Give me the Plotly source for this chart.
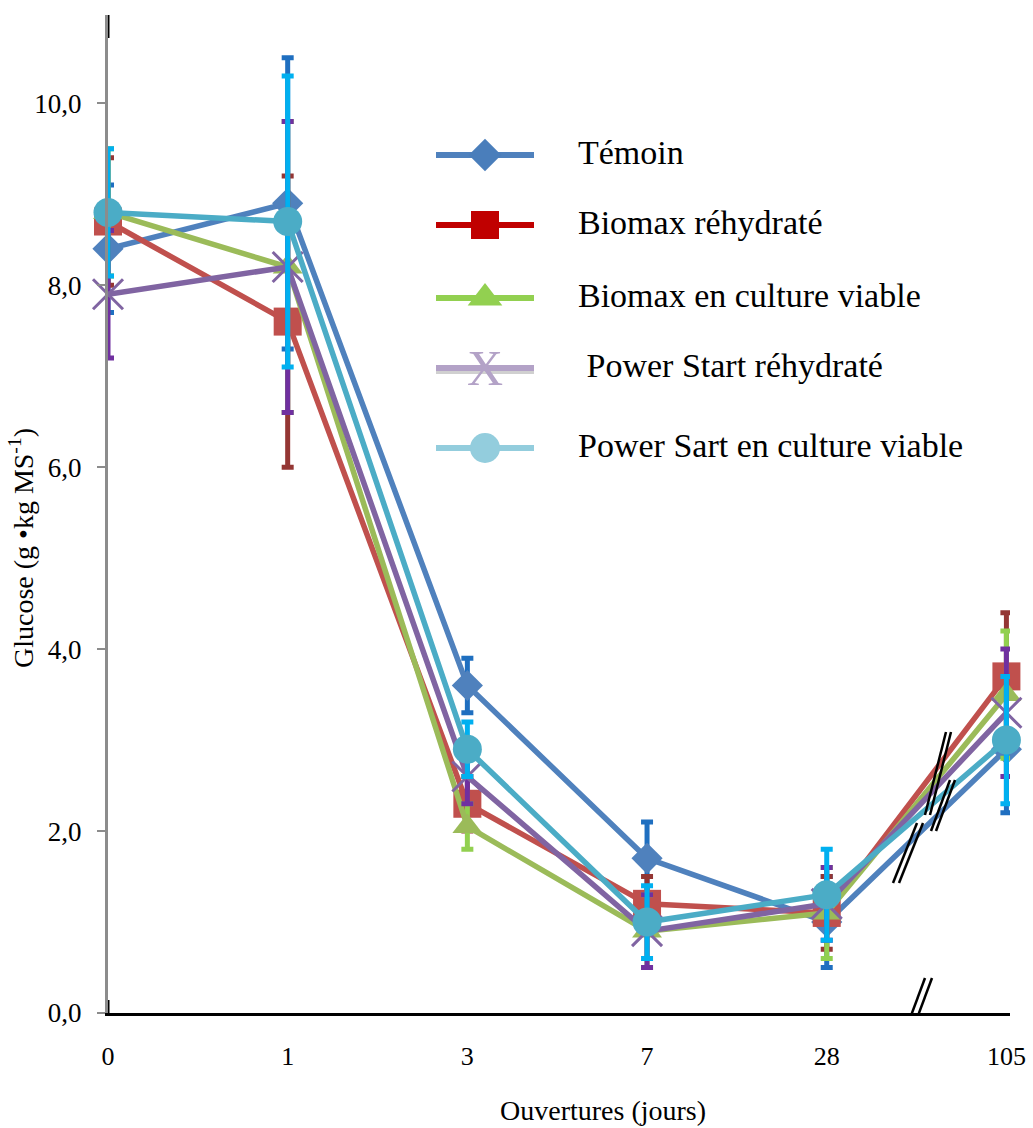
import plotly.graph_objects as go

# Sampling days (categorical positions on the x axis)
days = ["0", "1", "3", "7", "28", "105"]

# Glucose content (g/kg MS) and standard deviations per treatment
temoin = [8.4, 8.9, 3.6, 1.7, 1.0, 2.9]
temoin_sd = [0.7, 1.6, 0.3, 0.4, 0.5, 0.7]

biomax_reh = [8.7, 7.6, 2.3, 1.2, 1.1, 3.7]
biomax_reh_sd = [0.7, 1.6, 0.3, 0.3, 0.4, 0.7]

biomax_cult = [8.8, 8.2, 2.05, 0.9, 1.1, 3.5]
biomax_cult_sd = [0.7, 1.6, 0.25, 0.4, 0.5, 0.7]

power_reh = [7.9, 8.2, 2.6, 0.9, 1.2, 3.3]
power_reh_sd = [0.7, 1.6, 0.3, 0.4, 0.4, 0.7]

power_cult = [8.8, 8.7, 2.9, 1.0, 1.3, 3.0]
power_cult_sd = [0.7, 1.6, 0.3, 0.4, 0.5, 0.7]

names = ["Témoin", "Biomax réhydraté", "Biomax en culture viable",
         " Power Start réhydraté", "Power Sart en culture viable"]

x_title = "Ouvertures (jours)"
y_title = "Glucose (g •kg MS<sup>-1</sup>)"

FONT = "Liberation Serif"
xpos = list(range(len(days)))

# plot area in pixels: left, right, bottom, top
PL, PR, PB, PT = 108, 1010, 1013, 15


def px_to_paper(px, py):
    return (px - PL) / (PR - PL), (PB - py) / (PB - PT)


series = [
    # values, sd, line colour, marker symbol, marker size, error colour
    (temoin, temoin_sd, "#4F81BD", "diamond", 24, "#1F6FC0"),
    (biomax_reh, biomax_reh_sd, "#C0504D", "square", 28, "#943634"),
    (biomax_cult, biomax_cult_sd, "#9BBB59", "triangle-up", 26, "#92D050"),
    (power_reh, power_reh_sd, "#8064A2", "x-thin", 30, "#7030A0"),
    (power_cult, power_cult_sd, "#4BACC6", "circle", 29, "#00B0F0"),
]

fig = go.Figure()
for (vals, sd, col, sym, size, ecol), name in zip(series, names):
    marker = dict(symbol=sym, size=size, color=col)
    if sym == "x-thin":
        marker["line"] = dict(color=col, width=3)
    fig.add_trace(go.Scatter(
        x=xpos, y=vals, name=name, mode="lines+markers",
        line=dict(color=col, width=5.5),
        marker=marker,
        error_y=dict(type="data", array=sd, visible=True,
                     color=ecol, thickness=5, width=6),
        cliponaxis=False, showlegend=False,
    ))

# Legend drawn on an overlay axis measured in pixels of the plot area
leg_rows = [155, 225, 298, 368, 448]
leg_line = ["#4F81BD", "#C00000", "#92D050", "#B3A2C7", "#93CDDD"]
leg_mark = ["#4A7EBB", "#C00000", "#92D050", "#B3A2C7", "#93CDDD"]
leg_sym = ["diamond", "square", "triangle-up", None, "circle"]
leg_size = [25, 28, 30, None, 30]

for yrow, lc, mc, sym, sz in zip(leg_rows, leg_line, leg_mark, leg_sym, leg_size):
    if sym is None:
        # soft shadow under the lavender line
        fig.add_trace(go.Scatter(
            x=[436, 534], y=[yrow + 3, yrow + 3], mode="lines",
            line=dict(color="rgba(120,120,120,0.35)", width=6),
            xaxis="x2", yaxis="y2", showlegend=False, hoverinfo="skip"))
    fig.add_trace(go.Scatter(
        x=[436, 534], y=[yrow, yrow], mode="lines",
        line=dict(color=lc, width=6),
        xaxis="x2", yaxis="y2", showlegend=False, hoverinfo="skip"))
    if sym is not None:
        fig.add_trace(go.Scatter(
            x=[485], y=[yrow], mode="markers",
            marker=dict(symbol=sym, size=sz, color=mc),
            xaxis="x2", yaxis="y2", showlegend=False, hoverinfo="skip",
            cliponaxis=False))

fig.add_trace(go.Scatter(
    x=[578] * len(names), y=leg_rows, mode="text", text=names,
    textposition="middle right",
    textfont=dict(family=FONT, size=34, color="#000000"),
    xaxis="x2", yaxis="y2", showlegend=False, hoverinfo="skip",
    cliponaxis=False))

xt_x, xt_y = px_to_paper(603, 1110)
yt_x, yt_y = px_to_paper(22, 548)
annotations = [
    dict(x=485, y=368, xref="x2", yref="y2", text="X", showarrow=False,
         font=dict(family=FONT, size=50, color="#B3A2C7"),
         xanchor="center", yanchor="middle"),
    # axis titles
    dict(x=xt_x, y=xt_y, xref="paper", yref="paper", text=x_title,
         showarrow=False, font=dict(family=FONT, size=28, color="#000000"),
         xanchor="center", yanchor="middle"),
    dict(x=yt_x, y=yt_y, xref="paper", yref="paper", text=y_title,
         showarrow=False, textangle=-90,
         font=dict(family=FONT, size=28, color="#000000"),
         xanchor="center", yanchor="middle"),
]

# Axis-break marks (pixel coordinates on the overlay axis)
breaks = [
    ((899, 1048), (925, 978)), ((906, 1048), (932, 978)),
    ((925, 815), (946, 732)), ((930, 815), (951, 732)),
    ((931, 831), (950, 780)), ((936, 831), (955, 780)),
    ((893, 883), (917, 823)), ((899, 883), (923, 823)),
]
shapes = []
for (x0, y0), (x1, y1) in breaks:
    shapes.append(dict(type="line", xref="x2", yref="y2",
                       x0=x0, y0=y0, x1=x1, y1=y1,
                       line=dict(color="#000000", width=2.5)))
# dark end caps on the vertical axis
shapes.append(dict(type="line", xref="x2", yref="y2", x0=108, x1=108,
                   y0=15, y1=38, line=dict(color="#000000", width=3)))
shapes.append(dict(type="line", xref="x2", yref="y2", x0=108, x1=108,
                   y0=1000, y1=1021, line=dict(color="#000000", width=3)))
shapes.append(dict(type="line", xref="x2", yref="y2", x0=100, x1=108,
                   y0=1013, y1=1013, line=dict(color="#000000", width=3)))

fig.update_layout(
    width=1033, height=1128,
    margin=dict(l=PL, r=1033 - PR, t=PT, b=1128 - PB),
    paper_bgcolor="white", plot_bgcolor="white",
    separators=", ",
    font=dict(family=FONT, color="#000000"),
    showlegend=False,
    shapes=shapes,
    annotations=annotations,
    xaxis=dict(
        range=[0, 5.02], tickvals=xpos, ticktext=days,
        showgrid=False, zeroline=False, automargin=False,
        showline=True, linecolor="#000000", linewidth=3,
        ticks="", tickfont=dict(family=FONT, size=26),
        ticklabelstandoff=18,
    ),
    yaxis=dict(
        range=[0, 10.97], tickvals=[0, 2, 4, 6, 8, 10], tickformat=".1f",
        showgrid=False, zeroline=False, automargin=False,
        showline=True, linecolor="#8C8C8C", linewidth=3,
        ticks="outside", ticklen=8, tickcolor="#8C8C8C", tickwidth=2,
        tickfont=dict(family=FONT, size=27), ticklabelstandoff=10,
    ),
    xaxis2=dict(overlaying="x", range=[PL, PR], visible=False,
                fixedrange=True),
    yaxis2=dict(overlaying="y", range=[PB, PT], visible=False,
                fixedrange=True),
)

fig.write_html("out.html")
